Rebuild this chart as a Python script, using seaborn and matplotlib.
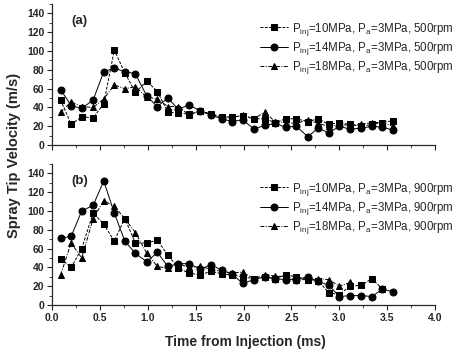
import numpy as np
import pandas as pd
import matplotlib
matplotlib.use("Agg")
import matplotlib.pyplot as plt
import seaborn as sns
from matplotlib.ticker import MultipleLocator

# time from injection (ms), one frame every ~0.11 ms
times = [0.09, 0.20, 0.31, 0.43, 0.54, 0.65, 0.76, 0.87, 0.99, 1.10, 1.21,
         1.32, 1.43, 1.55, 1.66, 1.77, 1.88, 1.99, 2.11, 2.22, 2.33, 2.44,
         2.55, 2.67, 2.78, 2.89, 3.00, 3.11, 3.23, 3.34, 3.45, 3.56]

# (a) 500 rpm
sq_a = [48, 22, 30, 29, 44, 101, 77, 56, 68, 57, 35, 34, 33, 36, 33, 30,
        30, 31, 28, 28, 24, 28, 28, 25, 28, 22, 24, 22, 20, 22, 24, 26]
ci_a = [59, 42, 39, 48, 78, 82, 78, 76, 52, 41, 50, 38, 43, 36, 32, 28,
        25, 27, 17, 21, 23, 19, 20, 9, 18, 13, 20, 17, 18, 20, 19, 16]
tr_a = [35, 46, 41, 40, 49, 64, 60, 62, 51, 49, 41, 41, 32, 36, 33, 29,
        29, 32, 28, 35, 25, 24, 23, 27, 23, 20, 22, 21, 22, 24, 24, 20]

# (b) 900 rpm
sq_b = [49, 40, 60, 98, 86, 68, 92, 66, 66, 69, 53, 39, 34, 32, 36, 33,
        32, 30, 28, 30, 28, 32, 30, 27, 26, 13, 11, 20, 21, 28, 17]
ci_b = [71, 73, 100, 106, 132, 98, 68, 55, 46, 56, 41, 44, 44, 38, 43, 37,
        33, 23, 27, 30, 28, 27, 27, 30, 25, 21, 9, 10, 10, 9, 17, 14]
tr_b = [32, 66, 50, 92, 111, 105, 92, 77, 55, 41, 39, 44, 40, 41, 38, 36,
        34, 35, 28, 32, 31, 30, 27, 27, 28, 27, 20, 24]

labels_a = [r"P$_{\mathrm{inj}}$=10MPa, P$_{\mathrm{a}}$=3MPa, 500rpm",
            r"P$_{\mathrm{inj}}$=14MPa, P$_{\mathrm{a}}$=3MPa, 500rpm",
            r"P$_{\mathrm{inj}}$=18MPa, P$_{\mathrm{a}}$=3MPa, 500rpm"]
labels_b = [l.replace("500rpm", "900rpm") for l in labels_a]

sns.set_style("ticks")
plt.rcParams["font.family"] = ["Liberation Sans", "DejaVu Sans"]
plt.rcParams["mathtext.fontset"] = "custom"
plt.rcParams["mathtext.rm"] = "Liberation Sans"

fig = plt.figure(figsize=(4.55, 3.53), dpi=100)
ax_a = fig.add_axes([0.1143, 0.589, 0.842, 0.3994])
ax_b = fig.add_axes([0.1143, 0.136, 0.842, 0.3994])

styles = [("s", (0, (3, 1.5))), ("o", "-"), ("^", (0, (4, 1.5, 1, 1.5)))]


def draw(ax, series, labels, tag):
    for vals, lab, (mk, ls) in zip(series, labels, styles):
        df = pd.DataFrame({"t": times[:len(vals)], "v": vals})
        sns.lineplot(data=df, x="t", y="v", ax=ax, color="black",
                     marker=mk, markersize=5, markeredgecolor="black",
                     linewidth=0.7, linestyle=ls, label=lab)
    ax.set_xlim(0, 4)
    ax.set_ylim(0, 150)
    ax.xaxis.set_major_locator(MultipleLocator(0.5))
    ax.xaxis.set_minor_locator(MultipleLocator(0.25))
    ax.yaxis.set_minor_locator(MultipleLocator(10))
    ax.set_yticks([0, 20, 40, 60, 80, 100, 120, 140])
    ax.tick_params(which="major", length=3.5, width=0.8, labelsize=7.5, pad=2)
    ax.tick_params(which="minor", length=2, width=0.6)
    for s in ["left", "bottom"]:
        ax.spines[s].set_linewidth(0.9)
    sns.despine(ax=ax)
    ax.set_xlabel("")
    ax.set_ylabel("")
    ax.text(0.05, 0.86, tag, transform=ax.transAxes, fontsize=9.5,
            fontweight="bold")
    ax.legend(loc="upper right", bbox_to_anchor=(1.07, 0.94), frameon=False,
              fontsize=8.3, handlelength=2.4, handletextpad=0.4,
              labelspacing=0.2, borderpad=0.2)
    for lbl in ax.get_yticklabels():
        lbl.set_fontweight("bold")


draw(ax_a, [sq_a, ci_a, tr_a], labels_a, "(a)")
draw(ax_b, [sq_b, ci_b, tr_b], labels_b, "(b)")

ax_a.set_xticklabels([])
for lbl in ax_b.get_xticklabels():
    lbl.set_fontweight("bold")

fig.text(0.54, 0.02, "Time from Injection (ms)", ha="center", fontsize=10,
         fontweight="bold")
fig.text(0.015, 0.56, "Spray Tip Velocity (m/s)", va="center", rotation=90,
         fontsize=10.5, fontweight="bold")

fig.savefig("out.png", dpi=100)
